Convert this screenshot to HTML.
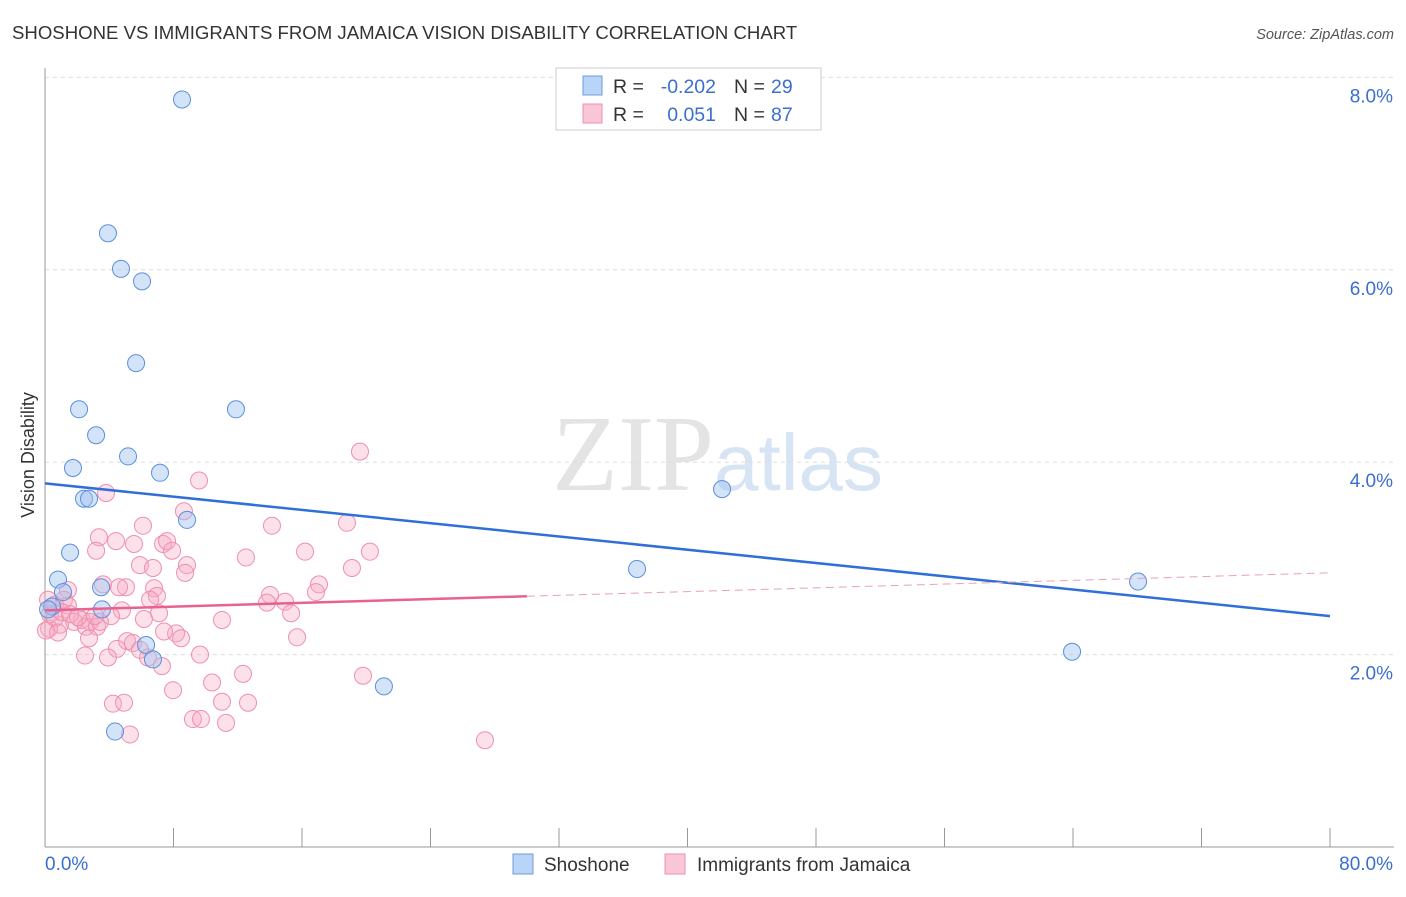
<!DOCTYPE html>
<html><head><meta charset="utf-8"><style>
body{margin:0;background:#fff;font-family:"Liberation Sans",sans-serif;}
</style></head><body>
<svg width="1406" height="892" xmlns="http://www.w3.org/2000/svg" font-family="Liberation Sans, sans-serif">
<text x="12" y="39" font-size="18.6" fill="#333">SHOSHONE VS IMMIGRANTS FROM JAMAICA VISION DISABILITY CORRELATION CHART</text>
<text x="1394" y="39" font-size="14.5" fill="#555" font-style="italic" text-anchor="end">Source: ZipAtlas.com</text>
<text x="34" y="455" font-size="18" fill="#333" transform="rotate(-90 34 455)" text-anchor="middle">Vision Disability</text>
<text x="714" y="490" font-size="108" fill="#e4e4e4" text-anchor="end" font-family="Liberation Serif, serif">ZIP</text>
<text x="714" y="490" font-size="80" fill="#d6e4f4">atlas</text>
<g id="grid"></g><g id="axes"></g><g id="pts"></g><g id="lines"></g>
<g>
<rect x="556" y="68" width="265" height="62" fill="#fff" stroke="#ccc"/>
<rect x="583" y="76" width="19" height="19" fill="#b9d4f6" stroke="#6b9de0"/>
<rect x="583" y="104" width="19" height="19" fill="#f9c6d6" stroke="#ee8fad"/>
<text x="613" y="93" font-size="19.5" fill="#333">R =</text>
<text x="716" y="93" font-size="19.5" fill="#3a6fd1" text-anchor="end">-0.202</text>
<text x="734" y="93" font-size="19.5" fill="#333">N =</text>
<text x="771" y="93" font-size="19.5" fill="#3a6fd1">29</text>
<text x="613" y="121" font-size="19.5" fill="#333">R =</text>
<text x="716" y="121" font-size="19.5" fill="#3a6fd1" text-anchor="end">0.051</text>
<text x="734" y="121" font-size="19.5" fill="#333">N =</text>
<text x="771" y="121" font-size="19.5" fill="#3a6fd1">87</text>
</g>
<g>
<rect x="513" y="854" width="20" height="20" fill="#b9d4f6" stroke="#6b9de0"/>
<text x="544" y="871" font-size="19" fill="#333">Shoshone</text>
<rect x="665" y="854" width="20" height="20" fill="#f9c6d6" stroke="#ee8fad"/>
<text x="697" y="871" font-size="19" fill="#333">Immigrants from Jamaica</text>
</g>
</svg>
<script>
const blueX=[8.53,3.92,4.73,6.04,5.67,2.12,11.89,3.18,5.17,1.74,7.16,2.43,2.74,8.84,1.56,0.81,1.12,3.49,0.44,3.55,6.29,6.72,4.36,21.1,36.86,42.15,63.94,68.05,0.19];
const blueY=[7.77,6.38,6.01,5.88,5.03,4.55,4.55,4.28,4.06,3.94,3.89,3.62,3.62,3.40,3.06,2.78,2.65,2.70,2.50,2.47,2.10,1.95,1.20,1.67,2.89,3.72,2.03,2.76,2.47];
const pinkX=[19.61,9.59,3.80,8.65,6.10,14.13,18.80,3.36,4.42,5.54,7.35,7.60,3.18,16.19,20.23,7.91,12.51,5.91,6.72,8.84,19.11,8.72,3.61,6.79,5.04,17.06,1.43,14.01,16.87,6.97,1.18,14.94,13.82,4.61,0.62,1.43,4.79,7.10,15.32,4.11,6.16,11.02,2.30,2.80,1.81,2.55,3.24,0.93,0.25,8.16,7.41,5.11,5.48,8.47,2.74,15.69,4.48,6.41,7.28,2.49,3.92,12.33,19.80,10.40,7.97,11.02,12.64,4.23,4.92,9.21,9.71,11.27,5.29,27.39,0.06,0.31,0.62,1.06,1.56,2.05,3.42,3.11,0.19,0.81,6.54,5.91,9.65];
const pinkY=[4.11,3.81,3.68,3.49,3.34,3.34,3.37,3.22,3.18,3.15,3.15,3.18,3.08,3.07,3.07,3.08,3.01,2.93,2.90,2.93,2.90,2.85,2.73,2.69,2.70,2.73,2.67,2.62,2.65,2.61,2.57,2.55,2.54,2.70,2.52,2.51,2.46,2.43,2.43,2.40,2.37,2.36,2.36,2.34,2.34,2.29,2.29,2.31,2.27,2.22,2.24,2.14,2.12,2.17,2.17,2.18,2.06,1.97,1.88,1.99,1.97,1.80,1.78,1.71,1.63,1.51,1.50,1.49,1.50,1.33,1.33,1.29,1.17,1.11,2.25,2.42,2.38,2.44,2.42,2.39,2.34,2.40,2.57,2.23,2.57,2.05,2.00];
const yTicks=[2,4,6,8];
const yTickLabels=["2.0%","4.0%","6.0%","8.0%"];
const blueTrend=[3.78,2.40];
const pinkTrend=[2.46,2.85];
const pinkSolidEnd=30;
(function(){
const X0=45,X1=1330,Y0=847,PY=96.2;
const sx=v=>X0+(v/80)*(X1-X0), sy=v=>Y0-v*PY;
const NS="http://www.w3.org/2000/svg";
function mk(t,a,p){const e=document.createElementNS(NS,t);for(const k in a)e.setAttribute(k,a[k]);p.appendChild(e);return e;}
const gGrid=document.getElementById('grid'),gAxes=document.getElementById('axes'),gPts=document.getElementById('pts'),gLines=document.getElementById('lines');
yTicks.forEach((t,i)=>{
 const g=mk('line',{x1:X0,x2:1394,y1:sy(t),y2:sy(t),stroke:'#ddd','stroke-dasharray':'4 4'},gGrid);
 
 
 const l=mk('text',{x:1393,y:sy(t)+25,'font-size':19,fill:'#3a6fd1','text-anchor':'end'},gAxes);
 l.textContent=yTickLabels[i];
 
 
});
const ya=mk('line',{x1:X0,x2:X0,y1:68,y2:Y0,stroke:'#999'},gAxes);


const xa=mk('line',{x1:X0,x2:1394,y1:Y0,y2:Y0,stroke:'#999'},gAxes);


for(let i=1;i<=10;i++){const tk=mk('line',{x1:sx(i*8),x2:sx(i*8),y1:828,y2:Y0,stroke:'#999'},gAxes);
 
 }
const xl0=mk('text',{x:45,y:870,'font-size':19,fill:'#3a6fd1'},gAxes);xl0.textContent='0.0%';


const xl1=mk('text',{x:1393,y:870,'font-size':19,fill:'#3a6fd1','text-anchor':'end'},gAxes);xl1.textContent='80.0%';


pinkX.forEach((x,i)=>{const c=mk('circle',{cx:sx(x),cy:sy(pinkY[i]),r:8.5,fill:'rgba(246,168,194,0.35)',stroke:'#ef8fae','stroke-width':1},gPts);
 
 });
blueX.forEach((x,i)=>{const c=mk('circle',{cx:sx(x),cy:sy(blueY[i]),r:8.5,fill:'rgba(160,195,240,0.45)',stroke:'#5b8fdc','stroke-width':1},gPts);
 
 });
const bl=mk('line',{x1:sx(0),y1:sy(blueTrend[0]),x2:sx(80),y2:sy(blueTrend[1]),stroke:'#2f6fd6','stroke-width':2.5},gLines);


const pm=pinkTrend[0]+(pinkTrend[1]-pinkTrend[0])*pinkSolidEnd/80;
const pl=mk('line',{x1:sx(0),y1:sy(pinkTrend[0]),x2:sx(pinkSolidEnd),y2:sy(pm),stroke:'#e8628f','stroke-width':2.5},gLines);


const pd=mk('line',{x1:sx(pinkSolidEnd),y1:sy(pm),x2:sx(80),y2:sy(pinkTrend[1]),stroke:'#e8a0b8','stroke-width':1,'stroke-dasharray':'8 5'},gLines);


})();
</script>
</body></html>
